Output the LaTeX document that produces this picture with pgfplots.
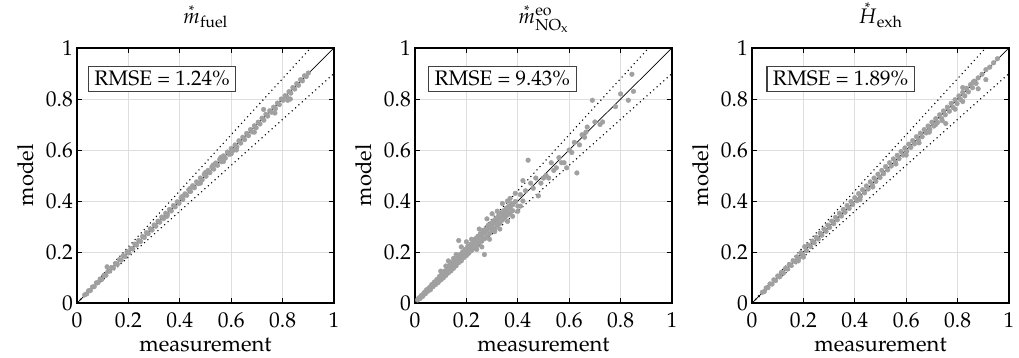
\documentclass[border=0pt]{standalone}
\usepackage[T1]{fontenc}
\usepackage{mathpazo}
\usepackage{amsmath}
\usepackage{pgfplots}
\pgfplotsset{compat=1.18}
\newcommand{\sacc}[2]{\mathord{\hbox{\ooalign{$#1$\cr\hidewidth\raisebox{#2}{\fontsize{14}{14}\selectfont *}\hidewidth\cr}}}}
\definecolor{dotgray}{RGB}{160,160,160}
\definecolor{gridgray}{RGB}{222,222,222}
\pgfplotsset{
  myax/.style={
    scale only axis, width=257pt, height=255pt,
    xmin=0, xmax=1, ymin=0, ymax=1,
    xtick={0,0.2,0.4,0.6,0.8,1}, ytick={0,0.2,0.4,0.6,0.8,1},
    xticklabels={0,0.2,0.4,0.6,0.8,1}, yticklabels={0,0.2,0.4,0.6,0.8,1},
    grid=major, major grid style={gridgray, line width=0.8pt},
    tick align=inside, major tick length=5pt,
    tick style={black, line width=0.8pt},
    axis line style={line width=1.1pt},
    tick label style={font=\fontsize{21.5}{24}\selectfont, inner sep=0pt},
    xticklabel style={anchor=north, yshift=-9pt},
    yticklabel style={anchor=east, xshift=-4pt},
    xlabel={measurement}, ylabel={model},
    xlabel style={font=\fontsize{22}{26}\selectfont, at={(axis description cs:0.5,-0.19)}, anchor=base, inner sep=0pt},
    ylabel style={font=\fontsize{22}{26}\selectfont, at={(axis description cs:-0.171,0.5)}, anchor=base, inner sep=0pt},
    title style={font=\fontsize{21}{24}\selectfont, at={(axis description cs:0.5,1.074)}, anchor=base, inner sep=0pt},
    clip=true,
  },
  dots/.style={only marks, mark=*, mark size=2.35pt, color=dotgray, mark options={draw=dotgray, fill=dotgray}},
}
\newcommand{\refl}{%
  \addplot[black, line width=0.7pt, forget plot] coordinates {(0,0) (1,1)};
}
\newcommand{\bandl}{%
  \addplot[black, dash pattern=on 1.1pt off 3.4pt, line width=1.1pt, forget plot] coordinates {(0,0) (0.9091,1)};
  \addplot[black, dash pattern=on 1.1pt off 3.4pt, line width=1.1pt, forget plot] coordinates {(0,0) (1,0.9)};
}
\newcommand{\rmsebox}[2]{%
  \node[draw=black!75, line width=1.1pt, fill=white, inner xsep=6pt, inner ysep=5pt,
  font=\fontsize{21}{24}\selectfont] at (axis cs:#1,0.88) {RMSE = #2\%};
}
\begin{document}
\begin{tikzpicture}
\path[use as bounding box] (-77pt,-55pt) rectangle (942pt,303pt);
%-------------------- fuel
\begin{axis}[myax, at={(0pt,0pt)}, anchor=south west,
  title={$\sacc{m}{8pt}{}_{\mathrm{fuel}}$}]
\refl
\addplot[dots] table {
0.030 0.032
0.038 0.036
0.045 0.048
0.052 0.049
0.060 0.063
0.067 0.064
0.075 0.079
0.082 0.080
0.090 0.094
0.097 0.093
0.105 0.109
0.112 0.108
0.117 0.142
0.120 0.123
0.128 0.126
0.135 0.139
0.142 0.138
0.150 0.155
0.157 0.152
0.165 0.170
0.172 0.168
0.180 0.186
0.187 0.182
0.195 0.201
0.202 0.197
0.210 0.214
0.217 0.212
0.225 0.231
0.232 0.227
0.240 0.245
0.247 0.241
0.255 0.261
0.262 0.257
0.270 0.276
0.277 0.272
0.285 0.291
0.292 0.286
0.300 0.306
0.307 0.301
0.315 0.321
0.322 0.317
0.330 0.337
0.337 0.331
0.345 0.352
0.352 0.347
0.360 0.367
0.367 0.361
0.375 0.382
0.382 0.377
0.390 0.397
0.397 0.391
0.405 0.413
0.412 0.406
0.420 0.428
0.427 0.422
0.435 0.444
0.442 0.437
0.450 0.460
0.457 0.452
0.465 0.475
0.472 0.468
0.480 0.490
0.487 0.483
0.495 0.505
0.502 0.497
0.510 0.520
0.517 0.511
0.525 0.534
0.532 0.525
0.540 0.549
0.547 0.540
0.555 0.563
0.562 0.554
0.570 0.577
0.577 0.568
0.585 0.592
0.592 0.583
0.600 0.606
0.607 0.598
0.615 0.620
0.622 0.612
0.630 0.636
0.637 0.627
0.645 0.650
0.652 0.641
0.660 0.665
0.667 0.656
0.675 0.680
0.682 0.671
0.690 0.695
0.697 0.687
0.705 0.709
0.712 0.702
0.720 0.725
0.727 0.717
0.735 0.740
0.742 0.733
0.750 0.754
0.757 0.748
0.765 0.768
0.772 0.762
0.780 0.784
0.787 0.778
0.795 0.800
0.802 0.795
0.810 0.813
0.817 0.808
0.825 0.829
0.832 0.823
0.840 0.845
0.847 0.839
0.855 0.860
0.862 0.854
0.870 0.876
0.877 0.871
0.885 0.891
0.892 0.888
0.900 0.902
0.570 0.555
0.620 0.600
0.690 0.670
0.770 0.745
0.820 0.795
0.830 0.800
0.600 0.585
0.726 0.759
0.480 0.470
0.350 0.340
0.500 0.512
0.530 0.541
0.560 0.571
0.440 0.449
0.410 0.418
};
\bandl
\rmsebox{0.331}{1.24}
\end{axis}
%-------------------- NOx
\begin{axis}[myax, at={(338pt,0pt)}, anchor=south west,
  title={$\sacc{m}{8pt}{}^{\mathrm{eo}}_{\mathrm{NO}_{\mathrm{x}}}$}]
\refl
\addplot[dots] table {
0.010 0.012
0.015 0.020
0.020 0.018
0.025 0.030
0.030 0.026
0.035 0.040
0.040 0.036
0.045 0.052
0.050 0.046
0.055 0.060
0.060 0.052
0.065 0.072
0.070 0.064
0.075 0.082
0.080 0.072
0.085 0.092
0.090 0.080
0.095 0.104
0.100 0.090
0.105 0.116
0.110 0.098
0.115 0.125
0.120 0.108
0.125 0.138
0.130 0.118
0.135 0.150
0.140 0.126
0.145 0.160
0.150 0.136
0.155 0.172
0.160 0.146
0.165 0.178
0.170 0.158
0.175 0.190
0.180 0.165
0.185 0.200
0.190 0.178
0.195 0.210
0.200 0.186
0.205 0.222
0.210 0.196
0.215 0.230
0.220 0.206
0.225 0.245
0.230 0.214
0.235 0.252
0.240 0.224
0.245 0.262
0.250 0.235
0.255 0.272
0.260 0.244
0.265 0.285
0.270 0.252
0.275 0.290
0.280 0.262
0.285 0.305
0.290 0.272
0.295 0.312
0.300 0.285
0.305 0.322
0.310 0.292
0.315 0.332
0.320 0.304
0.325 0.342
0.330 0.312
0.335 0.352
0.340 0.325
0.345 0.362
0.350 0.335
0.355 0.372
0.360 0.345
0.365 0.380
0.370 0.352
0.375 0.390
0.380 0.362
0.390 0.398
0.400 0.380
0.410 0.425
0.420 0.400
0.020 0.022
0.040 0.043
0.060 0.062
0.080 0.083
0.100 0.104
0.120 0.122
0.140 0.144
0.160 0.163
0.180 0.184
0.200 0.205
0.220 0.224
0.240 0.245
0.260 0.264
0.280 0.285
0.300 0.305
0.320 0.325
0.340 0.346
0.360 0.366
0.380 0.385
0.070 0.072
0.090 0.090
0.110 0.112
0.130 0.133
0.150 0.152
0.170 0.173
0.190 0.193
0.210 0.215
0.230 0.236
0.250 0.255
0.270 0.276
0.290 0.296
0.310 0.316
0.330 0.337
0.350 0.356
0.370 0.375
0.100 0.125
0.120 0.145
0.150 0.175
0.170 0.245
0.130 0.165
0.160 0.190
0.220 0.250
0.240 0.210
0.270 0.190
0.260 0.220
0.290 0.250
0.310 0.280
0.330 0.290
0.360 0.320
0.380 0.340
0.300 0.350
0.320 0.360
0.280 0.330
0.250 0.290
0.200 0.240
0.180 0.220
0.340 0.390
0.360 0.400
0.370 0.410
0.390 0.430
0.400 0.360
0.410 0.380
0.420 0.480
0.440 0.560
0.430 0.440
0.450 0.470
0.460 0.450
0.480 0.420
0.470 0.490
0.490 0.470
0.500 0.490
0.510 0.500
0.520 0.490
0.530 0.550
0.540 0.520
0.550 0.530
0.560 0.570
0.570 0.550
0.580 0.550
0.590 0.530
0.600 0.600
0.610 0.590
0.620 0.630
0.630 0.510
0.640 0.620
0.650 0.660
0.660 0.650
0.670 0.690
0.665 0.670
0.690 0.795
0.700 0.710
0.720 0.700
0.730 0.710
0.780 0.770
0.800 0.820
0.830 0.795
0.844 0.897
0.850 0.830
};
\bandl
\rmsebox{0.34}{9.43}
\end{axis}
%-------------------- Hexh
\begin{axis}[myax, at={(675pt,0pt)}, anchor=south west,
  title={$\sacc{H}{11pt}{}_{\mathrm{exh}}$}]
\refl
\addplot[dots] table {
0.040 0.042
0.048 0.045
0.055 0.059
0.062 0.060
0.070 0.075
0.078 0.074
0.085 0.091
0.092 0.088
0.100 0.106
0.108 0.103
0.115 0.121
0.122 0.117
0.130 0.136
0.138 0.133
0.145 0.151
0.152 0.147
0.160 0.166
0.168 0.162
0.175 0.181
0.182 0.176
0.190 0.197
0.198 0.190
0.205 0.221
0.212 0.205
0.220 0.227
0.228 0.221
0.235 0.243
0.242 0.236
0.250 0.258
0.258 0.251
0.265 0.274
0.272 0.266
0.280 0.290
0.288 0.281
0.295 0.305
0.302 0.296
0.310 0.321
0.318 0.311
0.325 0.336
0.332 0.326
0.340 0.352
0.348 0.341
0.355 0.367
0.362 0.356
0.370 0.382
0.378 0.371
0.385 0.398
0.392 0.386
0.400 0.413
0.408 0.401
0.415 0.429
0.422 0.417
0.430 0.444
0.438 0.432
0.445 0.459
0.452 0.447
0.460 0.475
0.468 0.462
0.475 0.490
0.482 0.477
0.490 0.505
0.498 0.492
0.505 0.520
0.512 0.507
0.520 0.535
0.528 0.522
0.535 0.550
0.542 0.537
0.550 0.565
0.558 0.551
0.565 0.579
0.572 0.566
0.580 0.594
0.588 0.580
0.595 0.608
0.602 0.595
0.610 0.623
0.618 0.610
0.625 0.637
0.632 0.624
0.640 0.652
0.648 0.638
0.655 0.666
0.662 0.652
0.670 0.680
0.678 0.667
0.685 0.694
0.692 0.681
0.700 0.709
0.708 0.694
0.715 0.723
0.722 0.708
0.730 0.738
0.738 0.723
0.745 0.753
0.752 0.738
0.760 0.768
0.768 0.752
0.775 0.783
0.782 0.767
0.790 0.797
0.798 0.782
0.805 0.812
0.812 0.798
0.820 0.826
0.828 0.812
0.835 0.842
0.842 0.828
0.850 0.856
0.858 0.844
0.865 0.870
0.872 0.861
0.880 0.883
0.895 0.897
0.910 0.915
0.925 0.925
0.940 0.942
0.955 0.958
0.880 0.840
0.910 0.876
0.715 0.700
0.754 0.704
0.740 0.715
0.790 0.760
0.820 0.790
0.690 0.670
0.650 0.628
0.600 0.580
0.560 0.545
0.200 0.180
0.180 0.165
0.420 0.405
0.470 0.455
0.820 0.845
0.860 0.865
};
\bandl
\rmsebox{0.345}{1.89}
\end{axis}
\end{tikzpicture}
\end{document}
